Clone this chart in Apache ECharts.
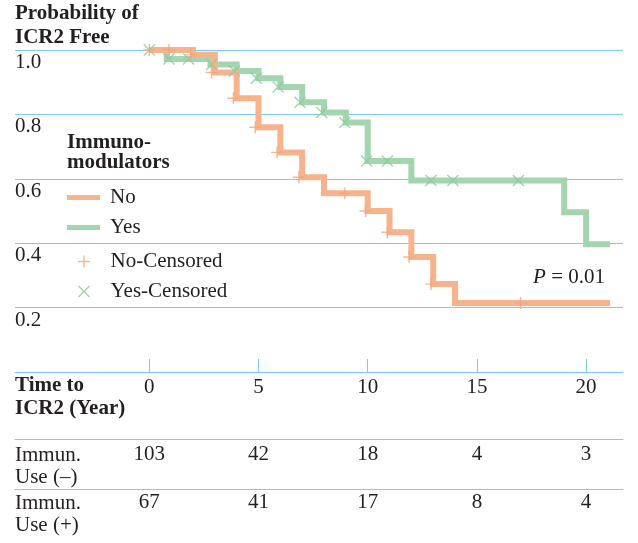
<!DOCTYPE html>
<html>
<head>
<meta charset="utf-8">
<script src="https://cdn.jsdelivr.net/npm/echarts@6/dist/echarts.min.js"></script>
<style>
html,body{margin:0;padding:0;background:#fff;}
#chart{width:638px;height:543px;}
</style>
</head>
<body>
<div id="chart"></div>
<script>
// ---- data ----
const xTicks = [0, 5, 10, 15, 20];
const yTickLabels = ['0.2', '0.4', '0.6', '0.8', '1.0'];
const countsNo = [103, 42, 18, 4, 3];
const countsYes = [67, 41, 17, 8, 4];

const noStepT = [0, 2, 3, 4, 5, 6, 7, 8, 10, 11, 12, 13, 14, 21.1];
const noStepS = [1.0, 0.985, 0.93, 0.85, 0.76, 0.682, 0.605, 0.555, 0.50, 0.434, 0.357, 0.273, 0.214, 0.214];

const yesStepT = [0, 0.8, 2.8, 4, 5, 6, 7, 8, 9, 10, 12, 19, 20, 21.1];
const yesStepS = [1.0, 0.972, 0.955, 0.935, 0.912, 0.885, 0.838, 0.806, 0.775, 0.655, 0.595, 0.496, 0.397, 0.397];

const noCensT = [0, 0.9, 1.9, 2.85, 3.85, 4.85, 5.85, 6.85, 8.95, 9.9, 10.9, 11.9, 12.9, 17];
const noCensS = [1.0, 1.0, 0.985, 0.93, 0.85, 0.76, 0.682, 0.605, 0.555, 0.50, 0.434, 0.357, 0.273, 0.214];

const yesCensT = [0, 0.9, 1.8, 2.85, 3.9, 4.9, 5.9, 6.9, 7.9, 8.95, 9.95, 10.9, 12.9, 13.9, 16.9];
const yesCensS = [1.0, 0.972, 0.972, 0.955, 0.935, 0.912, 0.885, 0.838, 0.806, 0.775, 0.655, 0.655, 0.595, 0.595, 0.595];

// ---- styles ----
const FONT = "'Liberation Serif','Times New Roman',serif";
const FS = 21;
const TXT = '#231f20';
const BLUE = '#7accf2';
const ORANGE = '#f7b38b';
const GREEN = '#a3d5ae';
const ORANGE_C = '#f4a47c';
const GREEN_C = '#8ccb9c';
const PLUS = 'path://M5.3,0h1.4v12h-1.4z M0,5.3h12v1.4h-12z';
const CROSS = 'path://M0,1L1,0L12,11L11,12z M11,0L12,1L1,12L0,11z';
const BAR = 'path://M0,0h33v5h-33z';

const zip = (a, b) => a.map((v, i) => [v, b[i]]);

const chart = echarts.init(document.getElementById('chart'), null, {renderer: 'canvas'});

const XMIN = -6.15, XMAX = 21.69;

function countAxis(gridIndex, counts, margin) {
  return {
    type: 'value', gridIndex: gridIndex, min: XMIN, max: XMAX, position: 'bottom',
    axisLine: {show: true, lineStyle: {color: BLUE, width: 1}},
    axisTick: {show: false},
    splitLine: {show: false},
    axisLabel: {
      show: true, customValues: xTicks, margin: margin,
      color: TXT, fontFamily: FONT, fontSize: FS, verticalAlign: 'top',
      formatter: v => String(counts[xTicks.indexOf(v)])
    }
  };
}

function t(x, y, s, bold) {
  return {type: 'text', left: x, top: y,
    style: {text: s, fill: TXT, font: (bold ? 'bold ' : '') + FS + 'px ' + FONT}};
}

const legendText = {color: TXT, fontFamily: FONT, fontSize: FS, padding: [0, 0, 0, 5]};

const option = {
  animation: false,
  backgroundColor: '#fff',
  grid: [
    {left: 15, right: 15, top: 50, bottom: 171},
    {left: 15, right: 15, top: 420, height: 19},
    {left: 15, right: 15, top: 470, height: 19}
  ],
  xAxis: [
    {
      type: 'value', gridIndex: 0, min: XMIN, max: XMAX,
      axisLine: {show: true, lineStyle: {color: BLUE, width: 1}},
      axisTick: {show: true, inside: true, length: 13, customValues: xTicks, lineStyle: {color: BLUE, width: 1}},
      splitLine: {show: false},
      axisLabel: {customValues: xTicks, margin: 5, color: TXT, fontFamily: FONT, fontSize: FS, verticalAlign: 'top'}
    },
    countAxis(1, countsNo, 5),
    countAxis(2, countsYes, 3)
  ],
  yAxis: [
    {
      type: 'value', gridIndex: 0, min: 0, max: 1, interval: 0.2,
      axisLine: {show: false}, axisTick: {show: false},
      splitLine: {show: true, lineStyle: {color: BLUE, width: 1}},
      axisLabel: {
        inside: true, margin: 0, align: 'left', verticalAlign: 'top', padding: [2, 0, 0, 0],
        color: TXT, fontFamily: FONT, fontSize: FS,
        formatter: v => { const s = v.toFixed(1); return yTickLabels.indexOf(s) >= 0 ? s : ''; }
      }
    },
    {type: 'value', gridIndex: 1, show: false, min: 0, max: 1},
    {type: 'value', gridIndex: 2, show: false, min: 0, max: 1}
  ],
  legend: [
    {
      orient: 'vertical', left: 67, top: 187, padding: 0, itemWidth: 33, itemHeight: 12, itemGap: 9,
      textStyle: legendText,
      data: [{name: 'No', icon: BAR}, {name: 'Yes', icon: BAR}]
    },
    {
      orient: 'vertical', left: 78, top: 251, padding: 0, itemWidth: 33, itemHeight: 12, itemGap: 9,
      textStyle: legendText,
      data: [{name: 'No-Censored', icon: PLUS}, {name: 'Yes-Censored', icon: CROSS}]
    }
  ],
  series: [
    {
      name: 'Yes', type: 'line', step: 'end', xAxisIndex: 0, yAxisIndex: 0,
      symbol: 'none', data: zip(yesStepT, yesStepS),
      lineStyle: {color: GREEN, width: 6, join: 'miter', cap: 'butt'},
      itemStyle: {color: GREEN}, z: 2
    },
    {
      name: 'No', type: 'line', step: 'end', xAxisIndex: 0, yAxisIndex: 0,
      symbol: 'none', data: zip(noStepT, noStepS),
      lineStyle: {color: ORANGE, width: 6, join: 'miter', cap: 'butt'},
      itemStyle: {color: ORANGE}, z: 3
    },
    {
      name: 'Yes-Censored', type: 'scatter', xAxisIndex: 0, yAxisIndex: 0,
      symbol: CROSS, symbolSize: 12, data: zip(yesCensT, yesCensS),
      itemStyle: {color: GREEN_C}, z: 4
    },
    {
      name: 'No-Censored', type: 'scatter', xAxisIndex: 0, yAxisIndex: 0,
      symbol: PLUS, symbolSize: 12, data: zip(noCensT, noCensS),
      itemStyle: {color: ORANGE_C}, z: 5
    }
  ],
  graphic: [
    t(15, 3, 'Probability of', true),
    t(15, 27, 'ICR2 Free', true),
    t(67, 132, 'Immuno-', true),
    t(67, 152, 'modulators', true),
    t(15, 375, 'Time to', true),
    t(15, 398, 'ICR2 (Year)', true),
    t(15, 445, 'Immun.', false),
    t(15, 467, 'Use (–)', false),
    t(15, 493, 'Immun.', false),
    t(15, 515, 'Use (+)', false),
    {
      type: 'text', right: 33, top: 267,
      style: {
        text: '{i|P} = 0.01', fill: TXT, font: FS + 'px ' + FONT,
        rich: {i: {fontStyle: 'italic', fontFamily: FONT, fontSize: FS, fill: TXT}}
      }
    }
  ]
};

chart.setOption(option);
</script>
</body>
</html>
